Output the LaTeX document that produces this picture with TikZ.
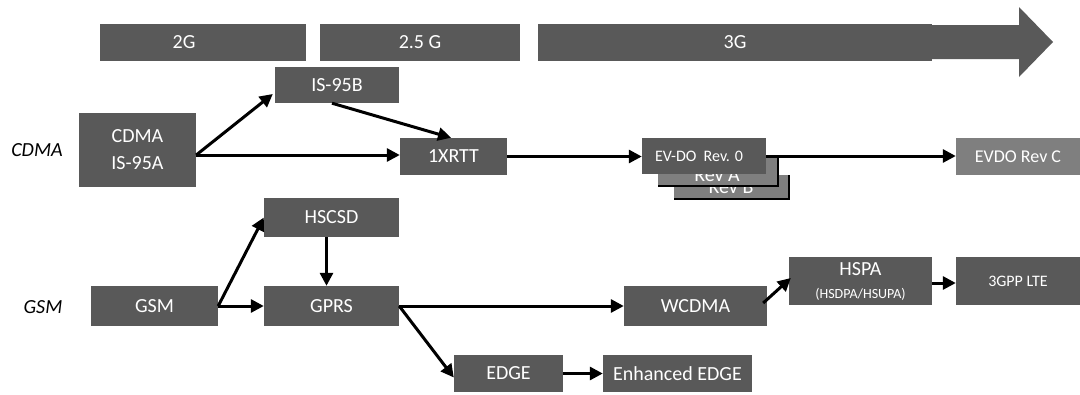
\documentclass[tikz,border=0pt]{standalone}
\usepackage{fontspec}
\setmainfont{Carlito}
\usetikzlibrary{arrows.meta,calc}
\definecolor{boxgray}{HTML}{595959}
\definecolor{litegray}{HTML}{7F7F7F}
\tikzset{
  bx/.style={fill=boxgray, text=white, inner sep=0pt, anchor=center, font=\fontsize{20}{24}\selectfont},
  litebx/.style={fill=litegray, text=white, inner sep=0pt, anchor=center},
  arr/.style={line width=3pt, -{Triangle[length=13pt,width=13pt]}},
  rowlbl/.style={font=\fontsize{20}{24}\selectfont\itshape, text=black, inner sep=0pt}
}
\begin{document}
\begin{tikzpicture}[x=1pt,y=-1pt]
\useasboundingbox (0,0) rectangle (1080,394);
% generation bars
\fill[boxgray] (538,25) -- (1019,25) -- (1019,7) -- (1053,42) -- (1019,77) -- (1019,59) -- (538,59) -- cycle;
\node[bx, minimum width=206pt, minimum height=37pt] (g2) at (203,42.5) {2G\kern38pt\relax};
\node[bx, minimum width=200pt, minimum height=37pt] (g25) at (420,42.5) {2.5 G};
\node[bx, minimum width=394pt, minimum height=37pt] (g3) at (735,42.5) {3G};
% row labels
\node[rowlbl] (lcdma) at (37,150) {CDMA};
\node[rowlbl] (lgsm) at (43,307) {GSM};
% CDMA row
\node[bx, minimum width=117pt, minimum height=74pt, align=center, font=\fontsize{20}{27}\selectfont] (cdma) at (137.5,150) {CDMA\\IS-95A};
\node[bx, minimum width=124pt, minimum height=36pt] (is95b) at (337,85) {IS-95B};
\node[bx, minimum width=107pt, minimum height=37pt] (x1rtt) at (453.5,156.5) {1XRTT};
% EV-DO stack
\fill[black] (674,175) rectangle (790,200);
\node[litebx, minimum width=114pt, minimum height=23pt] (revB) at (731,186.5) {};
\node[text=white, anchor=base, inner sep=0pt, font=\fontsize{20}{24}\selectfont] (tB) at (731,193) {Rev B};
\fill[black] (658,157) rectangle (779,187);
\node[litebx, minimum width=119pt, minimum height=28pt] (revA) at (717.5,171) {};
\node[text=white, anchor=base, inner sep=0pt, font=\fontsize{20}{24}\selectfont] (tA) at (717,181) {Rev A};
\node[bx, minimum width=124pt, minimum height=36pt, font=\fontsize{16}{20}\selectfont] (evdo0) at (704,156) {EV-DO\ \ Rev. 0\kern10pt\relax};
\node[litebx, minimum width=124pt, minimum height=37pt, font=\fontsize{18}{22}\selectfont] (evdoC) at (1018,156.5) {EVDO Rev C};
% GSM row
\node[bx, minimum width=135pt, minimum height=39pt] (hscsd) at (331.5,217.5) {HSCSD};
\node[bx, minimum width=127pt, minimum height=40pt] (gsm) at (154.5,306) {GSM};
\node[bx, minimum width=135pt, minimum height=40pt] (gprs) at (331.5,306) {GPRS};
\node[bx, minimum width=109pt, minimum height=37pt] (edge) at (508.5,373.5) {EDGE};
\node[bx, minimum width=149pt, minimum height=37pt] (eedge) at (677.5,373.5) {Enhanced EDGE};
\node[bx, minimum width=143pt, minimum height=48pt, align=center, font=\fontsize{20}{22}\selectfont] (hspa) at (860.5,281) {HSPA\\[1pt]{\fontsize{14}{16}\selectfont (HSDPA/HSUPA)}};
\node[bx, minimum width=143pt, minimum height=40pt] (wcdma) at (695.5,306) {WCDMA};
\node[bx, minimum width=124pt, minimum height=48pt, font=\fontsize{16}{20}\selectfont] (lte) at (1018,281) {3GPP LTE};
% connectors CDMA
\coordinate (cs) at ([yshift=-5pt]cdma.east);
\draw[arr] (cs) -- ([xshift=-2pt,yshift=-9pt]is95b.west);
\draw[arr] (cs) -- (cs -| x1rtt.west);
\draw[arr] ([xshift=-5pt]is95b.south) -- ([xshift=-2.5pt]x1rtt.north);
\draw[arr] (x1rtt.east) -- (x1rtt.east -| evdo0.west);
\draw[arr] (evdo0.east) -- (evdo0.east -| evdoC.west);
% connectors GSM
\draw[arr] (gsm.east) -- (hscsd.west);
\draw[arr] (gsm.east) -- (gprs.west);
\draw[arr] ([xshift=-5pt]hscsd.south) -- ([xshift=-5pt]gprs.north);
\draw[arr] (gprs.east) -- (wcdma.west);
\draw[arr] (gprs.east) -- ([yshift=-4pt]edge.west);
\draw[arr] (edge.east) -- (eedge.west);
\draw[arr] ([xshift=-4pt,yshift=3pt]wcdma.east) -- ([xshift=2pt,yshift=3pt]hspa.west);
\draw[arr] ([yshift=-2pt]hspa.east) -- ([yshift=-2pt]lte.west);
\end{tikzpicture}
\end{document}
